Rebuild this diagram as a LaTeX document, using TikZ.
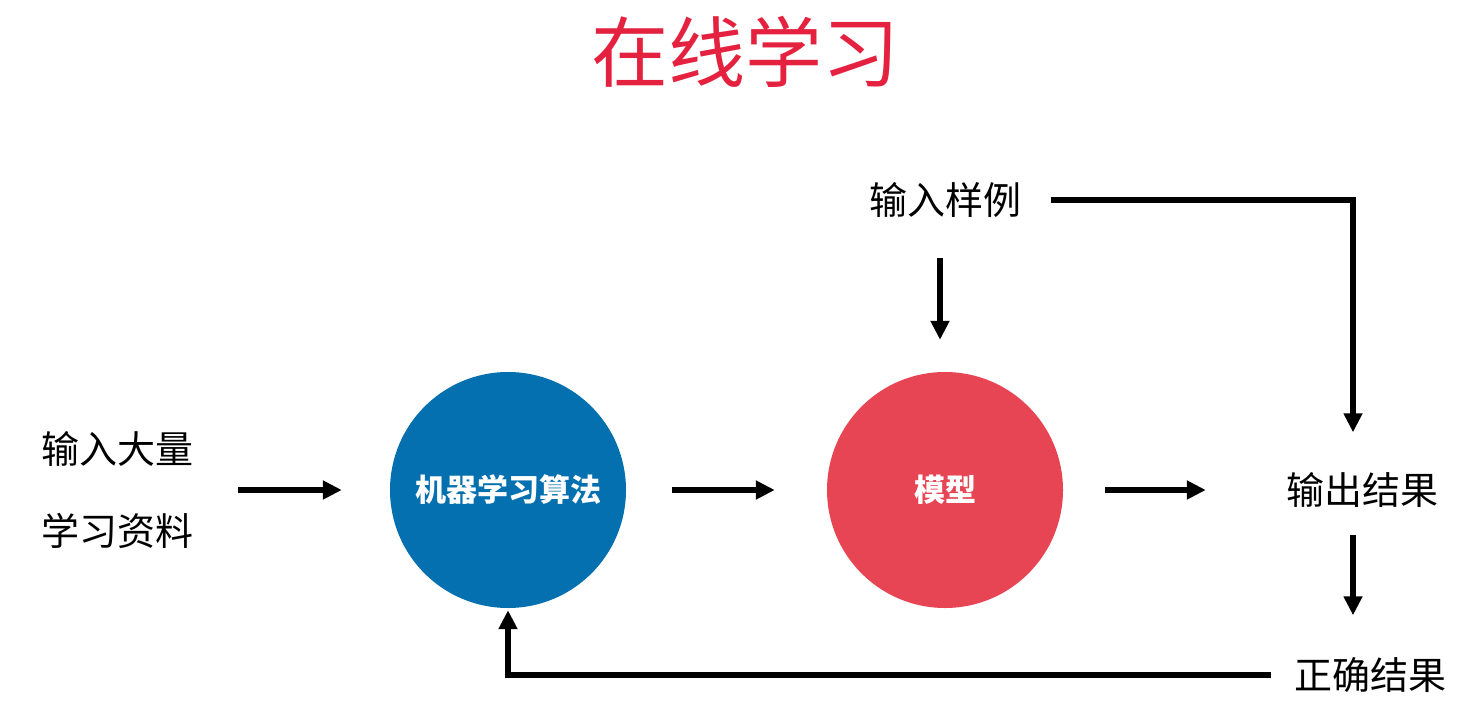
\documentclass[tikz,border=0pt]{standalone}
\usepackage{fontspec}
\newfontfamily\cjk{Noto Sans CJK SC}
\usepackage{tikz}
\usetikzlibrary{arrows.meta, positioning}
\usepackage{xcolor}
\definecolor{algoblue}{RGB}{4,112,175}
\definecolor{modelred}{RGB}{231,68,84}
\definecolor{titlered}{RGB}{228,34,64}

\begin{document}
\begin{tikzpicture}[x=1pt,y=-1pt,
    txt/.style={inner sep=0pt,font=\cjk\fontsize{38}{82}\selectfont},
    ball/.style={circle,minimum size=236pt,inner sep=0pt,text=white,font=\cjk\bfseries\fontsize{31}{34}\selectfont},
    link/.style={line width=5.5pt,-{Triangle[length=19pt,width=18pt]}}]
      \useasboundingbox[fill=white](0,0)rectangle(1467,717);
      \node[titlered,inner sep=0pt,font=\cjk\fontsize{77}{80}\selectfont](title)at(745,52){在线学习};
      \node[txt,align=left](bulk)at(117,490){输入大量\\学习资料};
      \node[ball,fill=algoblue](algo)at(508,490){机器学习算法};
      \node[ball,fill=modelred](model)at(945,490){模型};
      \node[txt](sample)at(945,200){输入样例};
      \node[txt](out)at(1362,490){输出结果};
      \node[txt](right)at(1370,675){正确结果};
      \draw[link,shorten <=45pt,shorten >=48pt](bulk.east|-algo.west)--(algo.west);
      \draw[link,shorten <=46pt,shorten >=52pt](algo.east)--(model.west);
      \draw[link,shorten <=42pt,shorten >=80pt](model.east)--(out.west);
      \draw[link,shorten <=40pt,shorten >=32pt]([xshift=-5pt]sample.south)--([xshift=-5pt]model.north);
      \draw[link,shorten <=30pt,shorten >=40pt](sample.east)-|([xshift=-9pt]out.north);
      \draw[link,shorten <=27pt,shorten >=42pt]([xshift=-9pt]out.south)--([xshift=-17pt]right.north);
      \draw[link,shorten <=23pt,shorten >=2pt](right.west)-|(algo.south);
    \end{tikzpicture}
\end{document}
